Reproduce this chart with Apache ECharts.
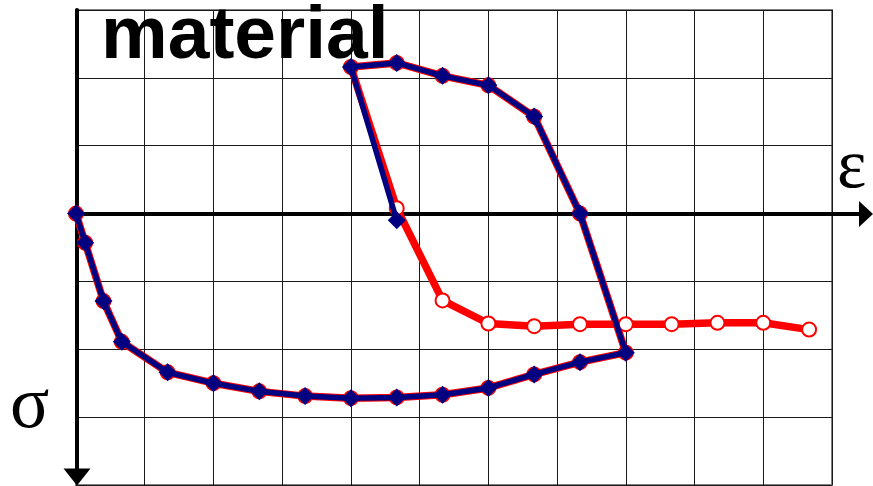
<!DOCTYPE html>
<html>
<head>
<meta charset="utf-8">
<script src="https://cdn.jsdelivr.net/npm/echarts@6/dist/echarts.min.js"></script>
<style>
  html, body { margin: 0; padding: 0; background: #fff; }
  #chart { width: 873px; height: 486px; }
</style>
</head>
<body>
<div id="chart"></div>
<script>
// Strain (ε) positions, 3 units per grid cell
const strainLoop = [0, 0.4, 1.2, 2, 4, 6, 8, 10, 12, 14, 16, 18, 20, 22, 24, 22, 20, 18, 16, 14, 12];
// Stress (σ) along the loop, 100 units per grid cell, positive downward
const stressLoop = [0, 43, 129, 189, 234, 250, 262, 269, 272, 271, 267, 257, 237, 219, 205, 0, -143, -189, -203, -222, -216];

// Final unloading of the blue curve
const strainBlueTail = [14];
const stressBlueTail = [10];

// Red curve continues after unloading
const strainRedTail = [14, 16, 18, 20, 22, 24, 26, 28, 30, 32];
const stressRedTail = [-8, 128, 162, 166, 163, 163, 163, 161, 161, 171];

const titleText = 'material';
const strainSymbol = 'ε';
const stressSymbol = 'σ';

function pairs(xs, ys) { return xs.map((x, i) => [x, ys[i]]); }

const redData = pairs(strainLoop.concat(strainRedTail), stressLoop.concat(stressRedTail));
const blueData = pairs(strainLoop.concat(strainBlueTail), stressLoop.concat(stressBlueTail));

const chart = echarts.init(document.getElementById('chart'), null, { renderer: 'canvas' });

const hidden = { show: false };

chart.setOption({
  animation: false,
  backgroundColor: '#fff',
  title: {
    text: titleText,
    left: 96,
    top: -5,
    textStyle: { fontFamily: '"Liberation Sans", Arial, sans-serif', fontWeight: 'bold', fontSize: 75, color: '#000' }
  },
  grid: [
    { left: 76, top: 10, width: 756, height: 475, show: true, borderColor: '#808080', borderWidth: 2, backgroundColor: 'transparent' },
    { left: 76, right: 7, top: 214, height: 1 },
    { left: 77, width: 1, top: 10, bottom: 9 }
  ],
  xAxis: [
    {
      gridIndex: 0, type: 'value', min: 0, max: 33, interval: 3,
      axisLine: hidden, axisTick: hidden, axisLabel: hidden,
      splitLine: { show: true, lineStyle: { color: '#1a1a1a', width: 1 } }
    },
    {
      gridIndex: 1, type: 'value', position: 'top', min: 0, max: 1,
      axisLine: { show: true, onZero: false, symbol: ['none', 'triangle'], symbolSize: [26, 14], lineStyle: { color: '#000', width: 4 } },
      axisTick: hidden, axisLabel: hidden, splitLine: hidden
    },
    { gridIndex: 2, type: 'value', show: false }
  ],
  yAxis: [
    {
      gridIndex: 0, type: 'value', inverse: true, min: -300, max: 400, interval: 100,
      axisLine: hidden, axisTick: hidden, axisLabel: hidden,
      splitLine: { show: true, lineStyle: { color: '#1a1a1a', width: 1 } }
    },
    { gridIndex: 1, type: 'value', show: false },
    {
      gridIndex: 2, type: 'value', min: 0, max: 1,
      axisLine: { show: true, onZero: false, symbol: ['triangle', 'none'], symbolSize: [27, 17], lineStyle: { color: '#000', width: 4 } },
      axisTick: hidden, axisLabel: hidden, splitLine: hidden
    }
  ],
  graphic: [
    { type: 'text', left: 837, top: 134, style: { text: strainSymbol, font: '70px "Liberation Serif", "DejaVu Serif", serif', fill: '#000' }, z: 10 },
    { type: 'text', left: 10, top: 371, style: { text: stressSymbol, font: '73px "Liberation Serif", "DejaVu Serif", serif', fill: '#000' }, z: 10 }
  ],
  series: [
    {
      type: 'line', xAxisIndex: 0, yAxisIndex: 0, data: redData,
      lineStyle: { color: '#ff0000', width: 7.5 },
      symbol: 'emptyCircle', symbolSize: 14,
      itemStyle: { color: '#ff0000', borderColor: '#ff0000', borderWidth: 2 },
      z: 3
    },
    {
      type: 'line', xAxisIndex: 0, yAxisIndex: 0, data: blueData,
      lineStyle: { color: '#000080', width: 5.5 },
      symbol: 'diamond', symbolSize: 18,
      itemStyle: { color: '#000080' },
      z: 4
    }
  ]
});
</script>
</body>
</html>
